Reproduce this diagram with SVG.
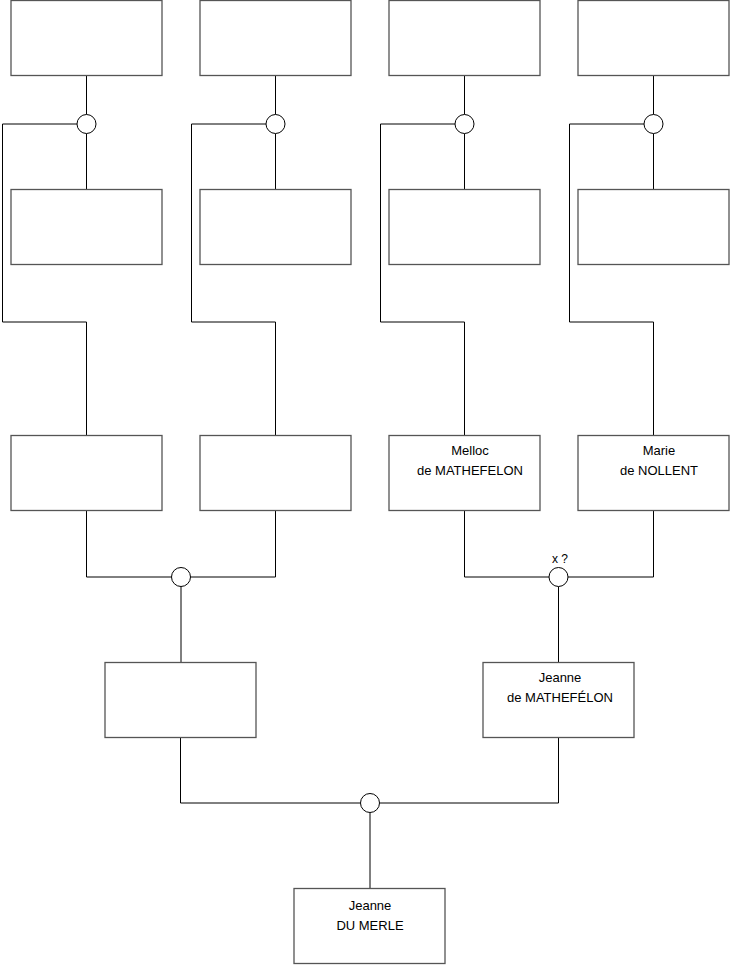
<svg xmlns="http://www.w3.org/2000/svg" width="740" height="975" viewBox="0 0 740 975">
<style>
.box{fill:#fff;stroke:#555;stroke-width:1.3}
.ln{fill:none;stroke:#000;stroke-width:1}
.c{fill:#fff;stroke:#000;stroke-width:1}
text{font-family:"Liberation Sans",Arial,sans-serif;font-size:13px;fill:#000;text-anchor:middle}
</style>
<rect width="740" height="975" fill="#fff"/>
<g id="connectors">
<path class="ln" d="M86.5,76V114.5M86.5,133.5V189M77,124H2.5V322H86.5V435"/>
<path class="ln" d="M275.5,76V114.5M275.5,133.5V189M266,124H191.5V322H275.5V435"/>
<path class="ln" d="M464.5,76V114.5M464.5,133.5V189M455,124H380.5V322H464.5V435"/>
<path class="ln" d="M653.5,76V114.5M653.5,133.5V189M644,124H569.5V322H653.5V435"/>
<path class="ln" d="M86.5,511V577H171.5M275.5,511V577H190.5M181,586.5V662"/>
<path class="ln" d="M464.5,511V577H549M653.5,511V577H568M558.5,586.5V662"/>
<path class="ln" d="M180.5,738V803H360.5M558.5,738V803H379.5M370,812.5V888"/>
</g>
<g id="unions">
<circle class="c" cx="86.5" cy="124" r="9.5"/>
<circle class="c" cx="275.5" cy="124" r="9.5"/>
<circle class="c" cx="464.5" cy="124" r="9.5"/>
<circle class="c" cx="653.5" cy="124" r="9.5"/>
<circle class="c" cx="181" cy="577" r="9.5"/>
<circle class="c" cx="558.5" cy="577" r="9.5"/>
<text x="560" y="563" style="font-size:12px">x ?</text>
<circle class="c" cx="370" cy="803" r="9.5"/>
</g>
<g id="n1"><rect class="box" x="11" y="0.5" width="151" height="75"/></g>
<g id="n2"><rect class="box" x="200" y="0.5" width="151" height="75"/></g>
<g id="n3"><rect class="box" x="389" y="0.5" width="151" height="75"/></g>
<g id="n4"><rect class="box" x="578" y="0.5" width="151" height="75"/></g>
<g id="n5"><rect class="box" x="11" y="189.5" width="151" height="75"/></g>
<g id="n6"><rect class="box" x="200" y="189.5" width="151" height="75"/></g>
<g id="n7"><rect class="box" x="389" y="189.5" width="151" height="75"/></g>
<g id="n8"><rect class="box" x="578" y="189.5" width="151" height="75"/></g>
<g id="n9"><rect class="box" x="11" y="435.5" width="151" height="75"/></g>
<g id="n10"><rect class="box" x="200" y="435.5" width="151" height="75"/></g>
<g id="n11"><rect class="box" x="389" y="435.5" width="151" height="75"/><text x="470" y="455">Melloc</text><text x="470" y="475">de MATHEFELON</text></g>
<g id="n12"><rect class="box" x="578" y="435.5" width="151" height="75"/><text x="659" y="455">Marie</text><text x="659" y="475">de NOLLENT</text></g>
<g id="n13"><rect class="box" x="105" y="662.5" width="151" height="75"/></g>
<g id="n14"><rect class="box" x="483" y="662.5" width="151" height="75"/><text x="560" y="682">Jeanne</text><text x="560" y="702">de MATHEFÉLON</text></g>
<g id="n15"><rect class="box" x="294" y="888.5" width="151" height="75"/><text x="370" y="910">Jeanne</text><text x="370" y="930">DU MERLE</text></g>
</svg>
